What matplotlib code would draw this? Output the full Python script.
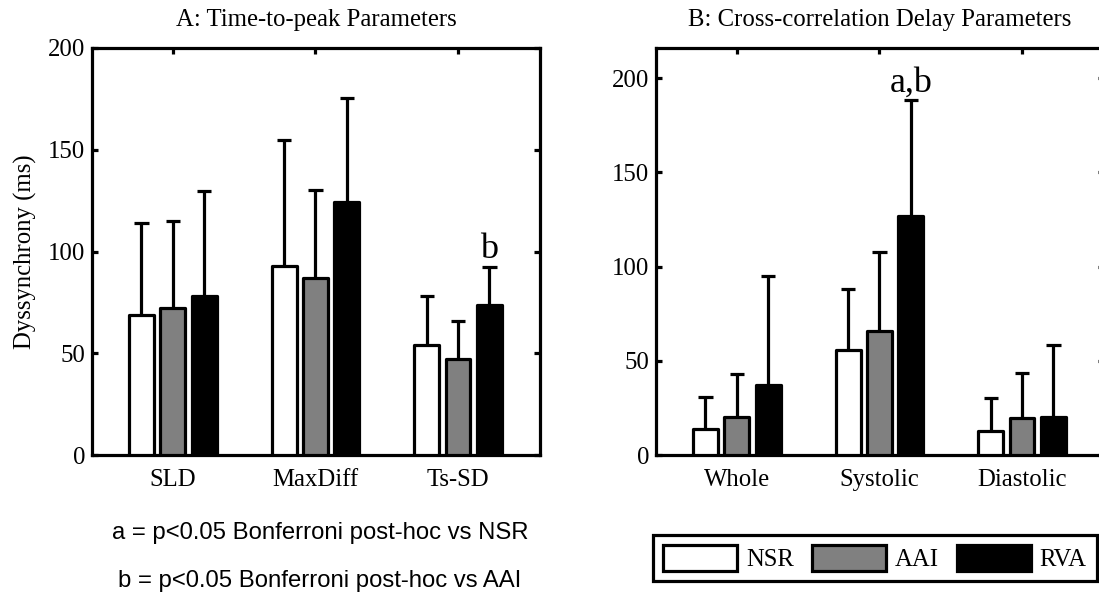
import matplotlib
matplotlib.use("Agg")
import matplotlib.pyplot as plt
import numpy as np

# Group labels
time_to_peak_labels = ["SLD", "MaxDiff", "Ts-SD"]
cross_corr_labels = ["Whole", "Systolic", "Diastolic"]
series_names = ["NSR", "AAI", "RVA"]

# Time-to-peak dyssynchrony (ms): mean and SD per pacing mode
ttp_nsr = [69, 93, 54]
ttp_aai = [72, 87, 47]
ttp_rva = [78, 124.5, 73.5]
ttp_nsr_sd = [45, 62, 24]
ttp_aai_sd = [43, 43, 19]
ttp_rva_sd = [51.5, 51, 19]

# Cross-correlation delay dyssynchrony (ms)
xc_nsr = [14, 55.5, 13]
xc_aai = [20, 66, 19.5]
xc_rva = [37, 127, 20]
xc_nsr_sd = [17, 32.5, 17.5]
xc_aai_sd = [23, 41.5, 24]
xc_rva_sd = [58, 61.5, 38.5]

# significance markers: (group index, series index, text)
ttp_marks = [(2, 2, "b")]
xc_marks = [(1, 2, "a,b")]

colors = ["white", "#808080", "black"]
W, H = 1099, 596
fig = plt.figure(figsize=(W / 100, H / 100), dpi=100)
plt.rcParams["font.family"] = ["Liberation Serif", "DejaVu Serif"]

LW = 2.3
FS = 17.8


def px_axes(x0, y0, x1, y1):
    return fig.add_axes([x0 / W, 1 - y1 / H, (x1 - x0) / W, (y1 - y0) / H])


def draw_panel(ax, labels, means, sds, marks, ylim, yticks, title):
    n = len(labels)
    x = np.arange(1, n + 1)
    offsets = [-0.22, 0.0, 0.22]
    width = 0.175
    cap = 0.05
    for k, (m, s) in enumerate(zip(means, sds)):
        xs = x + offsets[k]
        m = np.asarray(m, float)
        s = np.asarray(s, float)
        ax.vlines(xs, m, m + s, colors="black", linewidth=LW, zorder=2)
        ax.hlines(m + s, xs - cap, xs + cap, colors="black", linewidth=LW, zorder=2)
        ax.bar(xs, m, width=width, color=colors[k], edgecolor="black",
               linewidth=LW, joinstyle="round", zorder=3, label=series_names[k])
    for g, k, txt in marks:
        top = means[k][g] + sds[k][g]
        ax.annotate(txt, (x[g] + offsets[k], top), xytext=(0, 6),
                    textcoords="offset points", ha="center", va="baseline",
                    fontsize=26)
    ax.set_xlim(0.433, 3.575)
    ax.set_ylim(*ylim)
    ax.set_xticks(x)
    ax.set_xticklabels(labels, fontsize=FS)
    ax.set_yticks(yticks)
    ax.tick_params(axis="both", direction="in", top=True, right=True,
                   length=4, width=LW, labelsize=FS, pad=5)
    ax.tick_params(axis="x", pad=10)
    for sp in ax.spines.values():
        sp.set_linewidth(LW)
    ax.set_title(title, fontsize=FS, pad=15.5)


ax1 = px_axes(92, 48, 540, 455)
draw_panel(ax1, time_to_peak_labels, [ttp_nsr, ttp_aai, ttp_rva],
           [ttp_nsr_sd, ttp_aai_sd, ttp_rva_sd], ttp_marks, (0, 200),
           [0, 50, 100, 150, 200], "A: Time-to-peak Parameters")
ax1.set_ylabel("Dyssynchrony (ms)", fontsize=FS, labelpad=8)

ax2 = px_axes(656, 48, 1104, 455)
draw_panel(ax2, cross_corr_labels, [xc_nsr, xc_aai, xc_rva],
           [xc_nsr_sd, xc_aai_sd, xc_rva_sd], xc_marks, (0, 216),
           [0, 50, 100, 150, 200], "B: Cross-correlation Delay Parameters")

leg = fig.legend(*ax2.get_legend_handles_labels(), ncol=3,
                 loc="center left", bbox_to_anchor=(653 / W, 1 - 558 / H),
                 borderaxespad=0,
                 fontsize=FS, handlelength=3.0, handleheight=1.28,
                 columnspacing=0.72, handletextpad=0.36, borderpad=0.4,
                 fancybox=False, edgecolor="black", framealpha=1)
leg.get_frame().set_linewidth(LW)

fig.text(320 / W, 1 - 533 / H, "a = p<0.05 Bonferroni post-hoc vs NSR",
         ha="center", va="center", fontsize=17.2, family="Liberation Sans")
fig.text(320 / W, 1 - 581 / H, "b = p<0.05 Bonferroni post-hoc vs AAI",
         ha="center", va="center", fontsize=17.2, family="Liberation Sans")

fig.savefig("out.png", dpi=100)
